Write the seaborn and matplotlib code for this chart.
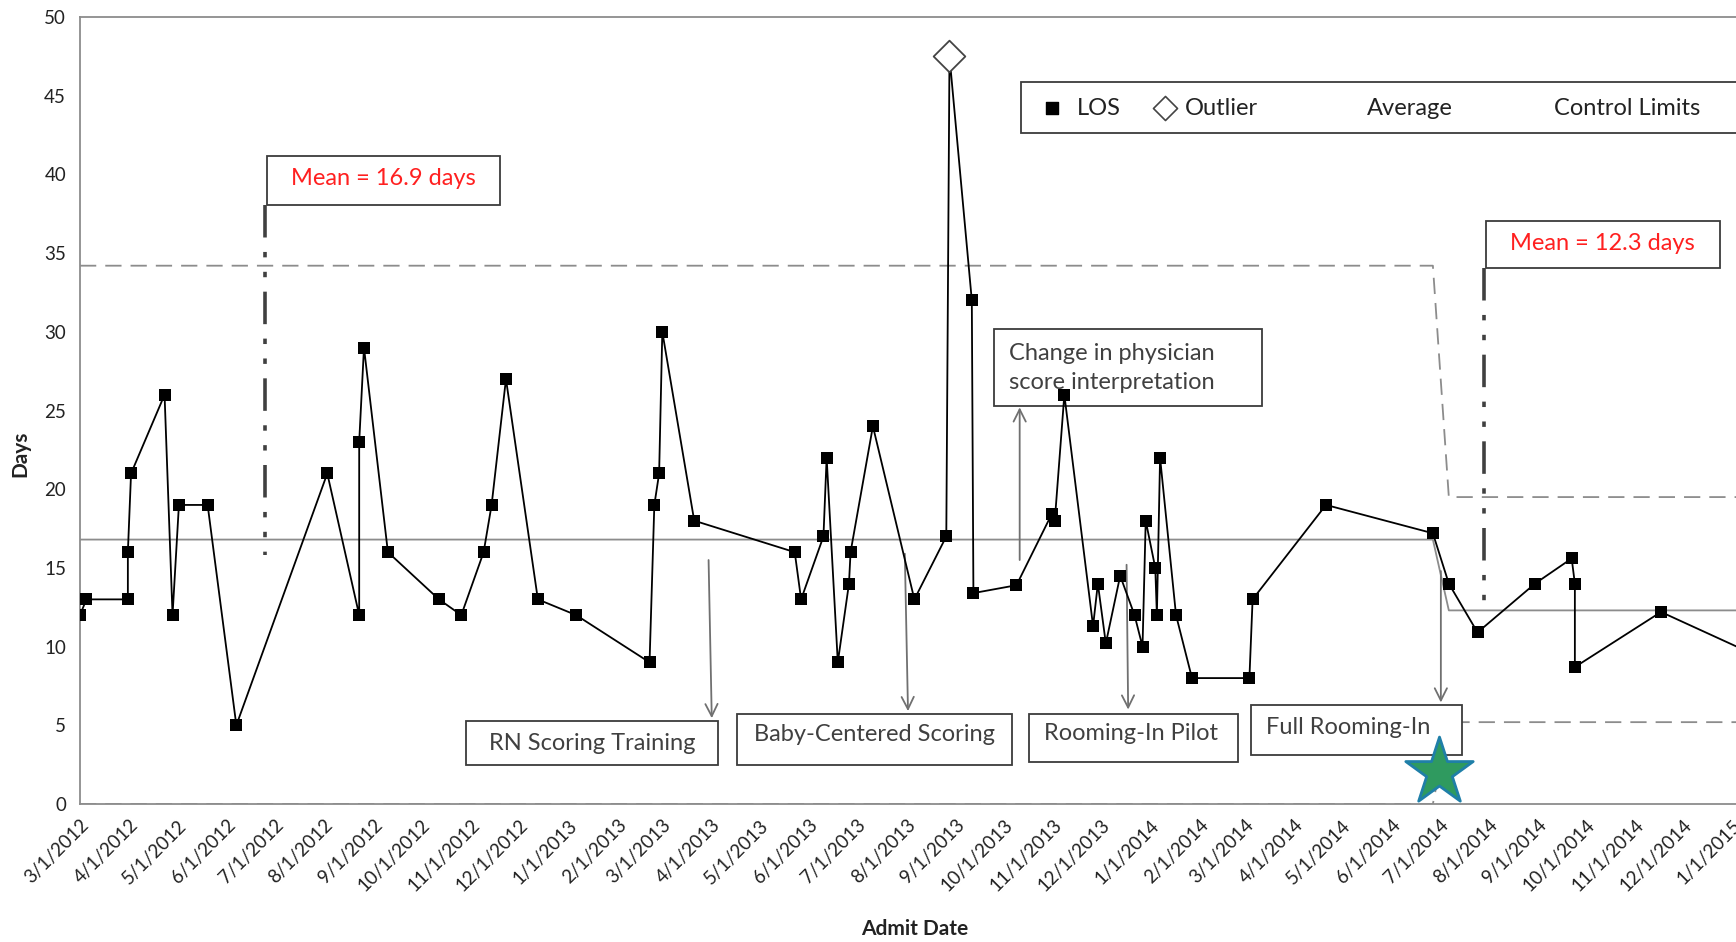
import numpy as np
import pandas as pd
import matplotlib
matplotlib.use("Agg")
import matplotlib.pyplot as plt
import matplotlib.dates as mdates
from matplotlib.patches import Rectangle
import seaborn as sns

# ---------------- data ----------------
admit_dates = [
    "2012-03-01", "2012-03-05", "2012-03-31", "2012-03-31", "2012-04-02", "2012-04-23",
    "2012-04-28", "2012-05-02", "2012-05-20", "2012-06-07", "2012-08-03", "2012-08-23",
    "2012-08-23", "2012-08-26", "2012-09-10", "2012-10-12", "2012-10-26", "2012-11-09",
    "2012-11-14", "2012-11-23", "2012-12-13", "2013-01-06", "2013-02-21", "2013-02-24",
    "2013-02-27", "2013-03-01", "2013-03-21", "2013-05-23", "2013-05-27", "2013-06-10",
    "2013-06-12", "2013-06-19", "2013-06-26", "2013-06-27", "2013-07-11", "2013-08-06",
    "2013-08-26", "2013-08-28", "2013-09-11", "2013-09-12", "2013-10-09", "2013-10-31",
    "2013-11-02", "2013-11-08", "2013-11-26", "2013-11-29", "2013-12-04", "2013-12-13",
    "2013-12-22", "2013-12-27", "2013-12-29", "2014-01-04", "2014-01-05", "2014-01-07",
    "2014-01-17", "2014-01-27", "2014-03-04", "2014-03-06", "2014-04-21", "2014-06-27",
    "2014-07-07", "2014-07-25", "2014-08-30", "2014-09-22", "2014-09-24", "2014-09-24",
    "2014-11-17", "2015-01-25",
]
los_days = [
    12, 13, 13, 16, 21, 26,
    12, 19, 19, 5, 21, 12,
    23, 29, 16, 13, 12, 16,
    19, 27, 13, 12, 9, 19,
    21, 30, 18, 16, 13, 17,
    22, 9, 14, 16, 24, 13,
    17, 47.5, 32, 13.4, 13.9, 18.4,
    18, 26, 11.3, 14, 10.2, 14.5,
    12, 10, 18, 15, 12, 22,
    12, 8, 8, 13, 19, 17.2,
    14, 10.9, 14, 15.6, 14, 8.7,
    12.2, 9.0,
]
outlier_date = "2013-08-28"
phase2_start = "2014-07-01"
mean_phase = [16.8, 12.3]
ucl_phase = [34.2, 19.5]
lcl_phase = [0.0, 5.2]
mean_labels = ["Mean = 16.9 days", "Mean = 12.3 days"]
events = ["RN Scoring Training", "Baby-Centered Scoring", "Rooming-In Pilot",
          "Full Rooming-In", "Change in physician\nscore interpretation"]
legend_labels = ["LOS", "Outlier", "Average", "Control Limits"]

df = pd.DataFrame({"date": pd.to_datetime(admit_dates), "los": los_days})
phase2 = df["date"] >= pd.Timestamp(phase2_start)
df["avg"] = np.where(phase2, mean_phase[1], mean_phase[0])
df["ucl"] = np.where(phase2, ucl_phase[1], ucl_phase[0])
df["lcl"] = np.where(phase2, lcl_phase[1], lcl_phase[0])
df["outlier"] = df["date"] == pd.Timestamp(outlier_date)

# ---------------- figure ----------------
sns.set_style("white")
plt.rcParams["font.family"] = ["Lato", "DejaVu Sans"]

W, H = 1736, 942
fig = plt.figure(figsize=(W / 100, H / 100), dpi=100)
ax = fig.add_axes([80 / W, 138 / H, 1 - 80 / W, (925 - 138) / H])

D = lambda s: mdates.date2num(pd.Timestamp(s))
gray = "#8c8c8c"
txt = "#404040"
FS = 17

# control limits and average
sns.lineplot(data=df, x="date", y="ucl", ax=ax, sort=False, estimator=None,
             color=gray, lw=1.3, zorder=2).lines[-1].set_dashes([9, 5])
sns.lineplot(data=df, x="date", y="lcl", ax=ax, sort=False, estimator=None,
             color=gray, lw=1.3, zorder=2).lines[-1].set_dashes([9, 5])
sns.lineplot(data=df, x="date", y="avg", ax=ax, sort=False, estimator=None,
             color=gray, lw=1.3, zorder=2)

# LOS line
sns.lineplot(data=df, x="date", y="los", ax=ax, sort=False, estimator=None,
             color="black", lw=1.3, zorder=4)
normal = df[~df["outlier"]]
sns.scatterplot(data=normal, x="date", y="los", ax=ax, marker="s", s=75,
                color="black", edgecolor="black", linewidth=0, zorder=5)
sns.scatterplot(data=df[df["outlier"]], x="date", y="los", ax=ax, marker="D", s=260,
                facecolor="white", edgecolor="#444444", linewidth=1.3, zorder=5)

# ---------------- axes ----------------
ax.set_xlim(D("2012-03-01"), D("2015-01-03"))
ax.set_ylim(0, 50)
ticks = pd.date_range("2012-03-01", "2015-01-01", freq="MS")
ax.set_xticks([D(t) for t in ticks])
ax.set_xticklabels([f"{t.month}/{t.day}/{t.year}" for t in ticks], rotation=45,
                   ha="right", rotation_mode="anchor", fontsize=13.5, color="#222222")
ax.set_yticks(range(0, 51, 5))
ax.set_yticklabels([str(v) for v in range(0, 51, 5)], fontsize=13.5, color="#222222")
ax.tick_params(axis="both", direction="out", length=6, width=1.2, color=gray, pad=4)
ax.tick_params(axis="x", pad=3)
for side in ["left", "bottom", "top"]:
    ax.spines[side].set_color(gray)
    ax.spines[side].set_linewidth(1.3)
ax.spines["right"].set_visible(False)
ax.set_xlabel("Admit Date", fontsize=15, fontweight="bold", color="#222222")
ax.set_ylabel("Days", fontsize=15, fontweight="bold", color="#222222")
ax.xaxis.set_label_coords(0.504, -0.146)
ax.yaxis.set_label_coords(-0.030, 0.445)

# ---------------- annotations ----------------
def box(x0, x1, y0, y1, z=3):
    r = Rectangle((D(x0), y0), D(x1) - D(x0), y1 - y0, facecolor="white",
                  edgecolor="#3c3c3c", lw=1.3, zorder=z)
    ax.add_patch(r)

# mean boxes with dash-dot-dot connectors
box("2012-06-26", "2012-11-19", 38.05, 41.2)
ax.text(D("2012-09-07"), 39.75, mean_labels[0], color="#ff2020", fontsize=FS,
        ha="center", va="center", zorder=6)
ax.plot([D("2012-06-25")] * 2, [38.05, 15.8], color="#404040", lw=2.6,
        dashes=[9, 4, 1.5, 4, 1.5, 4], zorder=3)

box("2014-07-30", "2014-12-24", 34.04, 37.06)
ax.text(D("2014-10-11"), 35.6, mean_labels[1], color="#ff2020", fontsize=FS,
        ha="center", va="center", zorder=6)
ax.plot([D("2014-07-29")] * 2, [34.04, 12.6], color="#404040", lw=2.6,
        dashes=[9, 4, 1.5, 4, 1.5, 4], zorder=3)

# event boxes
ev_boxes = [
    ("2012-10-29", "2013-04-05", 2.46, 5.27, "2013-01-16", 3.87),
    ("2013-04-17", "2013-10-06", 2.46, 5.70, "2013-07-12", 4.43),
    ("2013-10-17", "2014-02-25", 2.67, 5.70, "2013-12-20", 4.50),
    ("2014-03-05", "2014-07-15", 3.09, 6.26, "2014-05-05", 4.85),
]
for (x0, x1, y0, y1, xt, yt), label in zip(ev_boxes, events[:4]):
    box(x0, x1, y0, y1)
    ax.text(D(xt), yt, label, color=txt, fontsize=FS, ha="center", va="center", zorder=6)

box("2013-09-25", "2014-03-12", 25.3, 30.17, z=3)
ax.text(D("2013-10-04"), 27.7, events[4], color=txt, fontsize=FS, ha="left",
        va="center", linespacing=1.45, zorder=4)

arrows = [
    (("2013-03-30", 15.5), ("2013-04-01", 5.45)),
    (("2013-07-31", 15.9), ("2013-08-02", 5.9)),
    (("2013-12-17", 15.2), ("2013-12-18", 6.0)),
    (("2014-07-02", 14.8), ("2014-07-02", 6.45)),
    (("2013-10-11", 15.5), ("2013-10-11", 25.2)),
]
for (xs, ys), (xe, ye) in arrows:
    ax.annotate("", xy=(D(xe), ye), xytext=(D(xs), ys),
                arrowprops=dict(arrowstyle="->", color="#707070", lw=1.3,
                                mutation_scale=22, shrinkA=0, shrinkB=0), zorder=3)

# star marker for full rooming-in
ax.scatter([D("2014-07-01")], [2.04], marker="*", s=2600, color="#2f9a5f",
           edgecolor="#1f7fa8", linewidth=2, zorder=7, clip_on=False)

# ---------------- legend (manual box) ----------------
tA = ax.transAxes
ax.add_patch(Rectangle((0.568, 0.853), 0.5, 0.064, transform=tA, facecolor="white",
                       edgecolor="#3c3c3c", lw=1.3, zorder=6, clip_on=False))
ax.scatter([0.587], [0.885], transform=tA, marker="s", s=70, color="black", zorder=7)
ax.scatter([0.655], [0.885], transform=tA, marker="D", s=150, facecolor="white",
           edgecolor="#444444", linewidth=1.2, zorder=7)
for xl, lab in zip([0.602, 0.667, 0.777, 0.890], legend_labels):
    ax.text(xl, 0.884, lab, transform=tA, fontsize=FS, color="#222222",
            ha="left", va="center", zorder=7)

fig.savefig("out.png", dpi=100)
